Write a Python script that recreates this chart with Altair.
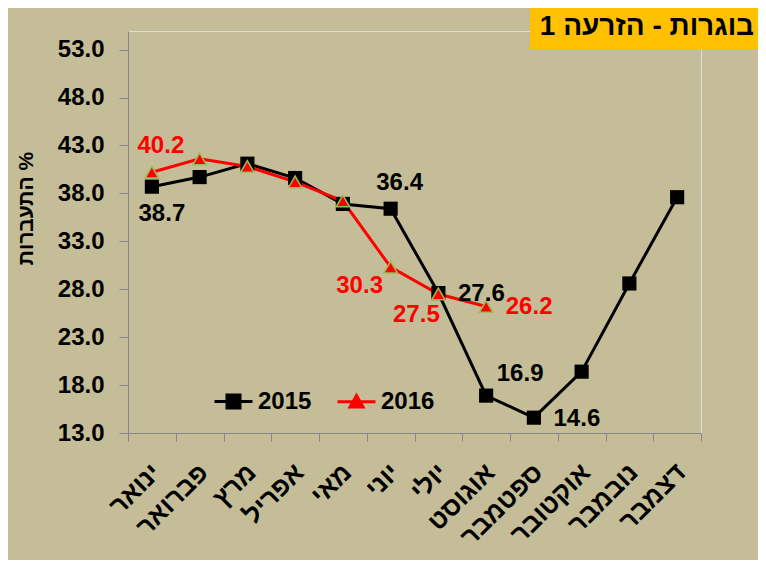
import altair as alt
import pandas as pd

# ---- data -------------------------------------------------------------
months = ["ינואר", "פברואר", "מרץ", "אפריל", "מאי", "יוני",
          "יולי", "אוגוסט", "ספטמבר", "אוקטובר", "נובמבר", "דצמבר"]
years = ["2015", "2016"]
values_2015 = [38.7, 39.7, 41.1, 39.6, 36.9, 36.4, 27.6, 16.9, 14.6, 19.4, 28.6, 37.6]
values_2016 = [40.2, 41.6, 40.8, 39.2, 37.2, 30.3, 27.5, 26.2]
y_ticks = [13, 18, 23, 28, 33, 38, 43, 48, 53]

chart_title = "בוגרות - הזרעה 1"
y_title = "התעברות  %"

labelled = [
    ("2015", "ינואר", "below"),
    ("2015", "יוני", "above"),
    ("2015", "יולי", "right"),
    ("2015", "אוגוסט", "upright"),
    ("2015", "ספטמבר", "right"),
    ("2016", "ינואר", "above"),
    ("2016", "יוני", "lowleft"),
    ("2016", "יולי", "belowleft"),
    ("2016", "אוגוסט", "right"),
]

# ---- styles -----------------------------------------------------------
FONT = "Liberation Sans"
BG = "#C4BD97"
GRAY = "#868686"
RED = "#FF0000"
offsets = {
    "below": (10, 27),
    "above": (9, -26),
    "right": (43, 1),
    "upright": (34, -22),
    "lowleft": (-31, 19),
    "belowleft": (-22, 21),
}

rows = []
for yr, vals in (("2015", values_2015), ("2016", values_2016)):
    for m, v in zip(months, vals):
        rows.append({"month": m, "year": yr, "value": v, "place": ""})
df = pd.DataFrame(rows)
for yr, m, p in labelled:
    df.loc[(df.year == yr) & (df.month == m), "place"] = p

x_enc = alt.X(
    "month:N",
    bandPosition=0.5,
    scale=alt.Scale(type="band", domain=months, paddingInner=0, paddingOuter=0),
    axis=alt.Axis(
        title=None, labelAngle=315, labelAlign="right", labelBaseline="middle",
        labelFontSize=26, labelFontWeight="bold", labelColor="black",
        labelPadding=27, labelOffset=4, labelOverlap=False,
        tickBand="extent", tickSize=8, tickColor=GRAY, domainColor=GRAY,
        grid=False,
    ),
)
y_enc = alt.Y(
    "value:Q",
    scale=alt.Scale(domain=[13, 54.94], nice=False, zero=False),
    axis=alt.Axis(
        values=y_ticks, format=".1f", grid=False,
        labelFontSize=24, labelFontWeight="bold", labelColor="black",
        labelPadding=15, tickSize=9, tickColor=GRAY, domainColor=GRAY,
        title=y_title, titleFontSize=21, titleFontWeight="bold", titleColor="black",
        titleAngle=270, titleX=-102, titleY=177, titleAlign="center",
        titleBaseline="middle",
    ),
)
color_scale = alt.Scale(domain=years, range=["black", RED])

legend_shapes = ["M-1.46,0H1.46M-0.5,-0.5H0.5V0.5H-0.5Z",
                 "M-1.46,0H1.46M0,-0.48L0.5,0.4H-0.5Z"]
leg = alt.Legend(
    title=None, orient="none", legendX=91, legendY=356, direction="horizontal",
    labelFontSize=24, labelFontWeight="bold", labelColor="black", labelFont=FONT,
    symbolSize=676, symbolStrokeWidth=3, labelOffset=10, columnPadding=19,
    padding=0,
)

base = alt.Chart(df).encode(x=x_enc, y=y_enc)

# lines: one layer, colour by year (carries no legend)
lines = base.mark_line(strokeWidth=3).encode(
    color=alt.Color("year:N", scale=color_scale, legend=None),
    order=alt.Order("year:N"),
)
pts15 = base.transform_filter("datum.year == '2015'").mark_point(
    shape="square", filled=True, size=200, color="black", opacity=1)
pts16 = base.transform_filter("datum.year == '2016'").mark_point(
    shape="triangle-up", filled=True, size=180, fill=RED, stroke="#9BBB59",
    strokeWidth=1.5, opacity=1)

# legend-only layer: points with the legend shapes, pushed off the canvas
legend_layer = base.mark_point(filled=True, strokeWidth=3, opacity=1).encode(
    x=alt.value(-3000), y=alt.value(-3000),
    shape=alt.Shape("year:N", scale=alt.Scale(domain=years, range=legend_shapes), legend=leg),
    color=alt.Color("year:N", scale=color_scale, legend=leg),
)

label_layers = []
for place, (dx, dy) in offsets.items():
    label_layers.append(
        base.transform_filter(f"datum.place == '{place}'")
        .mark_text(dx=dx, dy=dy, fontSize=24, fontWeight="bold", font=FONT)
        .encode(text=alt.Text("value:Q", format=".1f"),
                color=alt.Color("year:N", scale=color_scale, legend=None))
    )

title_df = pd.DataFrame({"t": [chart_title]})
title_box = alt.Chart(title_df).mark_rect(color="#FFC000").encode(
    x=alt.value(402), x2=alt.value(630), y=alt.value(-23), y2=alt.value(18))
title_text = alt.Chart(title_df).mark_text(
    align="right", baseline="middle", fontSize=28, fontWeight="bold", font=FONT,
    color="black").encode(x=alt.value(626), y=alt.value(-4), text="t:N")

chart = alt.layer(
    legend_layer, lines, pts15, pts16, *label_layers, title_box, title_text
).resolve_legend(color="shared", shape="shared").properties(
    width=573, height=402,
    padding={"left": 120, "top": 23, "right": 57, "bottom": 127},
    autosize=alt.AutoSizeParams(type="none"),
    background=BG,
).configure_view(stroke=None, fill="white").configure(font=FONT)

chart.save("out.html", embed_options={"renderer": "svg", "actions": False})
